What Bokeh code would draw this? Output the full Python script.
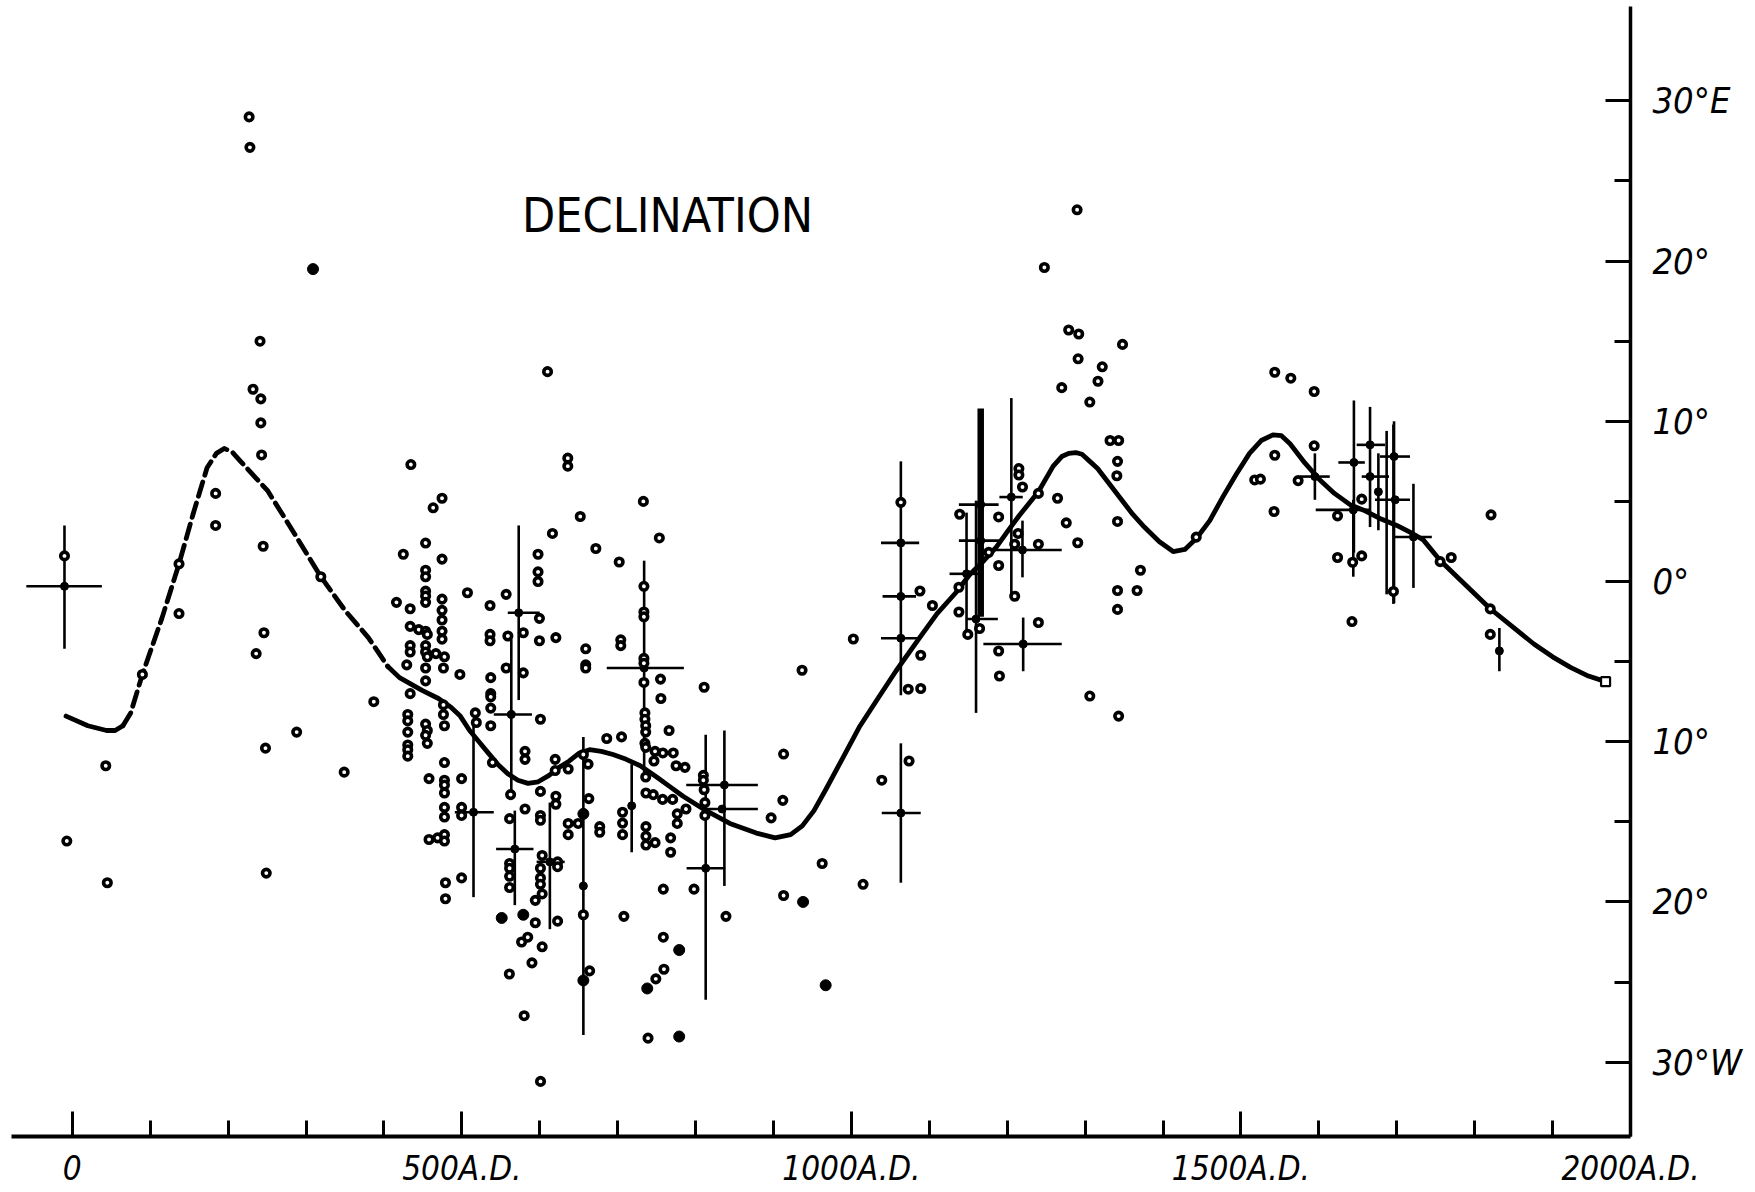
from bokeh.plotting import figure
from bokeh.models import Range1d, LinearAxis, FixedTicker
from bokeh.core.properties import value
from bokeh.embed import file_html
from bokeh.resources import INLINE

FONT = "DejaVu Sans Condensed, DejaVu Sans, sans-serif"

# ---- axis ticks -------------------------------------------------------
year_major = [0, 500, 1000, 1500, 2000]
year_major_labels = ["0", "500A.D.", "1000A.D.", "1500A.D.", "2000A.D."]
year_minor = [100, 200, 300, 400, 600, 700, 800, 900, 1100, 1200, 1300, 1400,
              1600, 1700, 1800, 1900]
decl_major = [30, 20, 10, 0, -10, -20, -30]
decl_major_labels = ["30°E", "20°", "10°", "0°", "10°", "20°", "30°W"]
decl_minor = [25, 15, 5, -5, -15, -25]

title_text = "DECLINATION"
title_year = 764
title_decl = 22.9

# ---- smoothed declination curve --------------------------------------
curve_years = [-8, 20, 44, 55, 65, 75, 90, 115, 137, 155, 173, 185, 195, 205, 216,
               251, 285, 319, 350, 380, 405, 420, 449, 470, 486, 498, 510, 522, 533,
               546, 559, 572, 585, 598, 612, 625, 638, 651, 664, 679, 694, 711, 729,
               750, 767, 784, 810, 844, 878, 902, 922, 937, 952, 967, 988, 1010,
               1034, 1057, 1087, 1110, 1134, 1152, 1170, 1186, 1200, 1216, 1240, 1259,
               1270, 1279, 1288, 1296, 1306, 1316, 1331, 1346, 1361, 1376, 1395, 1413,
               1428, 1443, 1460, 1477, 1494, 1511, 1526, 1541, 1552, 1563, 1582, 1601,
               1620, 1640, 1660, 1680, 1700, 1720, 1734, 1756, 1788, 1820, 1848, 1876,
               1900, 1923, 1946, 1968]
curve_decl = [-8.4, -9.0, -9.3, -9.3, -9.0, -8.2, -5.8, -2.3, 1.1, 4.2, 7.1, 8.0, 8.3, 8.1, 7.5,
              5.65, 3.0, 0.3, -1.8, -3.5, -5.3, -6.0, -6.8, -7.3, -7.85, -8.4, -9.3, -10.0, -10.65,
              -11.4, -12.0, -12.4, -12.6, -12.5, -12.1, -11.6, -11.2, -10.7, -10.5, -10.6, -10.8, -11.1, -11.5,
              -12.2, -12.8, -13.4, -14.2, -15.1, -15.7, -16.0, -15.8, -15.25, -14.3, -13.0, -11.1, -9.1,
              -7.3, -5.6, -3.55, -2.0, -0.7, 0.44, 1.3, 2.15, 3.1, 4.15, 5.6, 7.2,
              7.8, 8.0, 8.05, 7.94, 7.5, 7.05, 6.1, 5.15, 4.2, 3.4, 2.5, 1.87,
              2.0, 2.7, 3.8, 5.3, 6.7, 8.0, 8.8, 9.15, 9.1, 8.6, 7.4, 6.35,
              5.5, 4.8, 4.4, 3.9, 3.5, 3.0, 2.6, 1.3, -0.2, -1.7, -2.8, -3.9,
              -4.7, -5.36, -5.9, -6.25]
dash_from_year = 65
dash_to_year = 405
end_year = [1968]
end_decl = [-6.25]

# ---- individual determinations (open circles) -------------------------
open_years = [
    -10, 227, 228, 241, 232, 242, 242, 243, 184, 184, 245, 137, 319, 137, 246, 236, 90, 387,
    288, 248, 43, 349, -7, 45, 249,
    434.6, 636, 636, 474.6, 463.2, 616.3, 453.5, 424.9, 474.6, 597.8, 453.5, 453.5, 597.8, 597.8,
    507.2, 556.9, 453.5, 453.5, 453.5, 416.1, 474.6, 536.2, 433.7, 474.6, 474.6, 599.6, 433.7, 444.7,
    453.5, 455.7, 474.6, 474.6, 536.2, 536.2, 559.1, 578.9, 599.6, 620.7, 433.7, 433.7, 453.5, 453.5,
    455.7, 466.7, 477.7, 429.3, 453.5, 476.4, 497.5, 556.9, 578.9, 537.1, 453.5, 433.7, 537.1, 537.1,
    476.4, 537.1, 517.3, 476.4, 430.6, 430.6, 518.6, 453.5, 455.7, 477.7, 537.1, 600.9, 430.6, 453.5,
    455.7, 430.6, 430.6, 430.6, 581.1, 581.1, 619.8, 539.3, 477.7, 619.8, 457.9, 477.7, 477.7, 499.7,
    477.7, 562.6, 620.7, 620.7, 600.9, 477.7, 477.7, 499.7, 499.7, 581.1, 561.3, 600.9, 600.9, 457.9,
    468.9, 477.7, 477.7, 603.1, 622.9, 622.9, 561.3, 561.3, 561.3, 561.3, 600.9, 600.9, 600.9, 603.1,
    499.7, 479, 479, 594.3, 594.3, 622.9, 584.6, 576.7, 603.1, 610, 561, 580, 601, 590,
    652, 733, 753.5, 672, 702, 733.7, 733.7, 733.7, 733.7, 733.7, 733.7, 735, 735, 736, 736, 735, 736,
    736, 704, 704, 659, 659, 659, 755, 811, 755.5, 766, 686, 705, 748, 758, 771.4, 746.6, 775, 786.4,
    636.5, 662, 736.3, 745.7, 757.7, 770.6, 663, 787.7, 776.5, 776.5, 706.3, 706.3, 706.3, 636.5,
    636.5, 649.3, 677, 677, 736.3, 736.3, 736.3, 748, 768, 768, 758.6, 798, 708, 839, 758.6, 759.4,
    749, 739, 664, 656, 656, 810, 810, 811, 812, 812,
    936.7, 1002.5, 913, 912, 897, 962.5, 913, 1015, 1039, 1074, 1089, 1073, 1089, 1104, 1088,
    1063.5, 1138, 1138, 1149.4, 1139, 1189, 1189, 1189, 1190, 1164.5,
    1289.7, 1247.7, 1278.9, 1291.8, 1348, 1291, 1322, 1316.5, 1270, 1306, 1332, 1343, 1341.6, 1340.7,
    1215, 1215, 1219.6, 1240, 1264.6, 1275.8, 1341.6, 1290.5, 1371, 1341.6, 1366.7, 1341.6, 1209.6,
    1240, 1306, 1343, 1214, 1209.6, 1240, 1176.3,
    1543.4, 1564, 1594, 1594, 1543.4, 1517.7, 1525, 1573.4, 1542.5, 1442.6, 1624, 1624, 1643.4, 1655,
    1655, 1642.5, 1695.7, 1821, 1755.7, 1769.9, 1820, 1820]
open_decl = [
    1.6, 29.0, 27.1, 15.0, 12.0, 11.4, 9.9, 7.9, 5.5, 3.5, 2.2, 1.1, 0.3, -2.0, -3.2, -4.5, -5.8, -7.5,
    -9.4, -10.4, -11.5, -11.9, -16.2, -18.8, -18.2,
    7.3, 7.7, 7.2, 5.2, 4.6, 3.0, 2.4, 1.7, 1.4, 1.7, 0.7, 0.3, 0.6, 0.0,
    -0.7, -0.8, -0.6, -0.9, -1.3, -1.3, -1.1, -1.5, -1.7, -1.8, -2.4, -2.3, -2.8, -3.0,
    -3.1, -3.3, -3.1, -3.6, -3.3, -3.7, -3.4, -3.2, -3.7, -3.5, -4.0, -4.4, -4.0, -4.4,
    -4.7, -4.5, -4.7, -5.2, -5.4, -5.4, -5.8, -5.4, -5.7, -6.0, -6.2, -7.0, -7.0, -7.2,
    -7.7, -7.9, -8.2, -8.3, -8.3, -8.7, -8.8, -8.9, -9.3, -9.0, -9.0, -8.6, -9.4, -9.6,
    -10.1, -10.2, -10.5, -10.9, -10.6, -11.1, -11.1, -11.3, -11.3, -11.8, -12.3, -12.4, -12.7, -12.3,
    -13.2, -13.3, -13.4, -13.9, -13.1, -14.1, -14.7, -14.1, -14.6, -14.2, -14.8, -14.6, -14.9, -16.1,
    -16.0, -15.8, -16.2, -17.1, -17.5, -17.8, -17.6, -17.9, -18.4, -19.1, -17.9, -18.5, -18.9, -19.5,
    -18.5, -18.8, -19.8, -19.9, -21.3, -21.2, -22.2, -22.5, -22.8, 13.1, -24.5, -27.1, -31.2, -23.8,
    4.06, 5.0, 2.72, 2.06, 1.22, -0.3, -1.9, -2.2, -4.8, -5.1, -6.3, -8.2, -8.6, -9.0, -9.4, -10.1, -10.35,
    -12.2, -3.64, -4.0, -4.2, -5.2, -5.4, -6.09, -6.6, -7.3, -9.3, -9.8, -9.7, -10.6, -10.7, -10.7, -11.2, -11.5, -11.6,
    -11.7, -11.4, -13.2, -13.3, -13.6, -13.6, -13.55, -14.2, -14.5, -15.1, -14.4, -15.08, -15.8, -15.1,
    -15.8, -15.1, -15.3, -15.65, -15.3, -15.9, -16.45, -16.3, -16.0, -16.9, -19.2, -19.2, -20.9, -20.9, -22.2, -24.2,
    -24.8, -28.5, -24.3, -10.8, -20.8, -12.1, -12.4, -13.0, -13.8, -14.6,
    -5.54, -3.59, -10.77, -13.66, -14.75, -17.6, -19.6, -18.9, -12.4, -11.2, -4.6, -6.72, -6.68, -1.5, -0.59,
    4.94, -0.36, -1.9, -3.3, 4.2, 4.03, 1.0, -4.34, -5.9, -2.93,
    23.2, 19.6, 15.7, 15.45, 14.8, 13.9, 13.4, 12.5, 12.1, 11.2, 8.8, 8.8, 7.5, 6.6,
    7.05, 6.65, 5.9, 5.5, 5.2, 3.66, 3.75, 2.42, 0.7, -0.56, -0.56, -1.74, -0.92,
    -2.56, -7.15, -8.4, 3.0, 2.33, 2.33, 1.82,
    13.06, 12.69, 11.86, 8.47, 7.88, 6.34, 6.39, 6.3, 4.37, 2.77, 4.1, 1.5, 1.2, 1.6,
    5.14, -2.5, -0.62, 4.16, 1.24, 1.5, -1.71, -3.3]

# ---- solid (black) determinations -------------------------------------
solid_years = [309, 551.2, 779, 738, 779, 967, 938, 656, 656, 578.9]
solid_decl = [19.5, -21.0, -23.0, -25.4, -28.4, -25.2, -20.0, -14.5, -24.9, -20.8]

# ---- means with error bars (None = bar absent) ------------------------
err_year = [-10, 515, 573, 563.5, 568, 613, 734, 656, 718, 813, 837, 834, 1063.5, 1063.5, 1063.5,
            1063.5, 1205.3, 1219.6, 1220.5, 1166, 1166, 1147.8, 1160, 1594.9, 1645, 1644.2,
            1665.7, 1665.7, 1676.4, 1696.5, 1698, 1721.4, 1831.7]
err_decl = [-0.3, -14.4, -1.95, -8.3, -16.7, -17.5, -5.4, -19.0, -14.0, -17.9, -12.7, -14.2, 2.41, -0.93,
            -3.54, -14.45, 5.27, 1.97, -3.9, 4.8, 2.55, 0.48, -2.34, 6.55, 7.43, 4.47,
            8.53, 6.55, 5.6, 7.8, 5.1, 2.78, -4.33]
err_year_lo = [-59, 491, 559, 541, 544, 596, 686, None, None, 788.5, 788, 812, 1038, 1040, 1038,
               1039, 1190, 1170.7, 1169.4, 1138, 1138, 1126, 1147, 1575.6, 1625, 1596,
               1648.5, 1655, None, 1678.5, 1672, 1697.8, None]
err_year_hi = [38, 541, 600, 590, 592, 632, 785, None, None, 838, 880, 880, 1087, 1083, 1087,
               1089, 1220, 1270, 1270, 1189, 1190, 1166, 1188, 1614, 1659, 1665.7,
               1685, 1690, None, 1717, 1717, 1745, None]
err_decl_lo = [-4.2, -19.7, -7.4, -13.3, -20.2, -21.7, -12.2, -28.3, -16.9, -26.1, -19.0, None, -7.1, None,
               None, -18.8, -0.96, 0.26, -5.6, None, None, -3.2, -8.2, 5.1, 1.8, 0.3,
               3.4, None, 3.2, -1.35, None, -0.4, -5.6]
err_decl_hi = [3.5, -8.6, 3.5, -3.6, -14.3, -13.8, 1.3, -9.7, -11.4, -9.56, -9.3, None, 7.5, None,
               None, -10.1, 11.45, 3.8, -2.25, None, None, 4.3, 5.05, 8.0, 11.3, 5.1,
               10.9, None, 8.0, 10.0, None, 6.1, -2.9]

# plain vertical ranges without a marked mean
vbar_year = [1687, 1695.7]
vbar_lo = [-0.8, -1.4]
vbar_hi = [9.4, 9.8]
# heavy overlapping ranges near 1166 A.D.
heavy_year = [1166]
heavy_lo = [-2.2]
heavy_hi = [10.8]

# ---- figure -------------------------------------------------------------
p = figure(width=1750, height=1190,
           x_range=Range1d(-78, 2000), y_range=Range1d(-34.64, 35.89),
           output_backend="svg", toolbar_location=None,
           x_axis_location=None, y_axis_location=None,
           min_border_left=11, min_border_right=120, min_border_top=6, min_border_bottom=52,
           outline_line_color=None, background_fill_color="white", border_fill_color="white")
p.grid.visible = False

xaxis = LinearAxis(
    ticker=FixedTicker(ticks=year_major, minor_ticks=year_minor),
    major_label_overrides={float(v): t for v, t in zip(year_major, year_major_labels)},
    major_tick_in=25, major_tick_out=0, minor_tick_in=16, minor_tick_out=0,
    axis_line_width=4, axis_line_color="black",
    major_tick_line_width=3, minor_tick_line_width=3,
    major_label_standoff=12,
    major_label_text_font=FONT, major_label_text_font_size="33px",
    major_label_text_font_style="italic", major_label_text_color="black")
p.add_layout(xaxis, "below")

yaxis = LinearAxis(
    ticker=FixedTicker(ticks=decl_major, minor_ticks=decl_minor),
    major_label_overrides={float(v): t for v, t in zip(decl_major, decl_major_labels)},
    major_tick_in=25, major_tick_out=0, minor_tick_in=16, minor_tick_out=0,
    axis_line_width=3.5, axis_line_color="black",
    major_tick_line_width=3, minor_tick_line_width=3,
    major_label_standoff=22,
    major_label_text_font=FONT, major_label_text_font_size="36px",
    major_label_text_font_style="italic", major_label_text_color="black")
p.add_layout(yaxis, "right")

# curve: solid - dashed - solid
seg_a = [(x, y) for x, y in zip(curve_years, curve_decl) if x <= dash_from_year]
seg_d = [(x, y) for x, y in zip(curve_years, curve_decl) if dash_from_year <= x <= dash_to_year]
seg_b = [(x, y) for x, y in zip(curve_years, curve_decl) if x >= dash_to_year]
for seg, dash in ((seg_a, "solid"), (seg_d, "15 7"), (seg_b, "solid")):
    p.line([s[0] for s in seg], [s[1] for s in seg], line_width=4.8, line_color="black",
           line_dash=dash, line_join="round", line_cap="round")

# error bars
hx0, hx1, hy = [], [], []
vx, vy0, vy1 = [], [], []
for x, y, xl, xh, yl, yh in zip(err_year, err_decl, err_year_lo, err_year_hi, err_decl_lo, err_decl_hi):
    if xl is not None:
        hx0.append(xl); hx1.append(xh); hy.append(y)
    if yl is not None:
        vx.append(x); vy0.append(yl); vy1.append(yh)
vx += vbar_year; vy0 += vbar_lo; vy1 += vbar_hi
p.segment(x0=hx0, y0=hy, x1=hx1, y1=hy, line_width=2.6, line_color="black")
p.segment(x0=vx, y0=vy0, x1=vx, y1=vy1, line_width=2.6, line_color="black")
p.segment(x0=heavy_year, y0=heavy_lo, x1=heavy_year, y1=heavy_hi, line_width=6.5, line_color="black")
p.scatter(err_year, err_decl, marker="circle", size=8, fill_color="black", line_color="black")

# individual points
p.scatter(open_years, open_decl, marker="circle", size=7.5, line_width=3.6,
          line_color="black", fill_color="white")
p.scatter(solid_years, solid_decl, marker="circle", size=11, line_width=1,
          line_color="black", fill_color="black")
p.scatter(end_year, end_decl, marker="square", size=9, line_width=2.2,
          line_color="black", fill_color="white")

p.text(x=[title_year], y=[title_decl], text=[title_text], text_font=value(FONT),
       text_font_size="48px", text_align="center", text_baseline="alphabetic",
       text_color="black")

open("out.html", "w").write(file_html(p, INLINE))
